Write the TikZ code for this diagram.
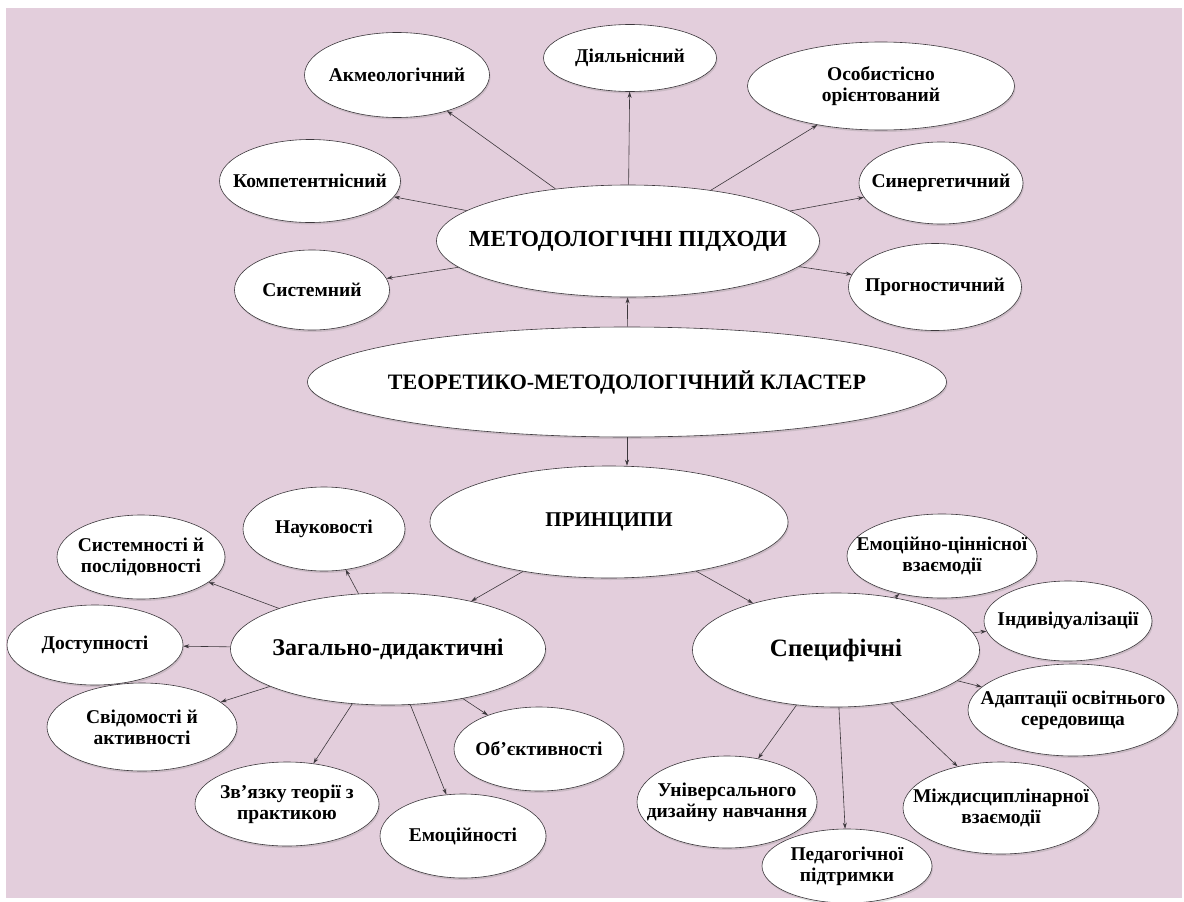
\documentclass[tikz,border=0pt]{standalone}
\usepackage{fontspec}
\setmainfont{Liberation Serif}
\usetikzlibrary{shapes.geometric,arrows.meta,shadows}

\definecolor{bgpink}{RGB}{227,206,220}
\definecolor{edge}{RGB}{60,55,60}

% a line of text that takes no width, so the ellipse keeps its given size
\newcommand{\zl}[1]{\makebox[0pt]{#1}}

\tikzset{
  bubble/.style={ellipse, draw=edge, line width=0.6pt, fill=white, inner sep=0pt,
    align=center, font=\bfseries\fontsize{19.5}{21}\selectfont,
    drop shadow={opacity=0.25, shadow xshift=1pt, shadow yshift=-2pt}},
  link/.style={draw=edge, line width=0.6pt, -{Stealth[length=6pt,width=4pt]}},
}

\begin{document}
\begin{tikzpicture}[x=1pt,y=-1pt]
  % page and coloured background
  \useasboundingbox (0,0) rectangle (1184,902);
  \fill[white] (0,0) rectangle (1184,902);
  \fill[bgpink] (6,8) rectangle (1182,898);

  % centre of the cluster
  \node[bubble, font=\bfseries\fontsize{22}{26}\selectfont, minimum width=639pt, minimum height=110pt] (clu) at (627,382) {\zl{ТЕОРЕТИКО-МЕТОДОЛОГІЧНИЙ КЛАСТЕР}};

  % methodological approaches
  \node[bubble, font=\bfseries\fontsize{23}{27}\selectfont, minimum width=383pt, minimum height=112pt] (met) at (628,241) {\zl{МЕТОДОЛОГІЧНІ ПІДХОДИ}};
  \node[bubble, minimum width=185pt, minimum height=85pt] (akm) at (397,75) {\zl{Акмеологічний}};
  \node[bubble, minimum width=173pt, minimum height=67pt] (dial) at (630,58) {\zl{Діяльнісний}};
  \node[bubble, minimum width=267pt, minimum height=88pt] (osob) at (881,86) {\zl{Особистісно}\\\zl{орієнтований}};
  \node[bubble, minimum width=181pt, minimum height=83pt] (komp) at (310,181) {\zl{Компетентнісний}};
  \node[bubble, minimum width=164pt, minimum height=82pt] (syn) at (941,183) {\zl{Синергетичний}};
  \node[bubble, minimum width=155pt, minimum height=80pt] (sys) at (312,290) {\zl{Системний}};
  \node[bubble, minimum width=173pt, minimum height=87pt] (progn) at (935,287) {\zl{Прогностичний}};

  % principles
  \node[bubble, font=\bfseries\fontsize{21}{25}\selectfont, minimum width=358pt, minimum height=112pt] (pryn) at (609,522) {\zl{ПРИНЦИПИ}};

  % general didactic principles
  \node[bubble, font=\bfseries\fontsize{24}{28}\selectfont, minimum width=315pt, minimum height=112pt] (zag) at (388,649) {\zl{Загально-дидактичні}};
  \node[bubble, minimum width=162pt, minimum height=84pt] (nauk) at (324,529) {\zl{Науковості}};
  \node[bubble, minimum width=168pt, minimum height=84pt] (sysp) at (141,557) {\zl{Системності й}\\\zl{послідовності}};
  \node[bubble, minimum width=176pt, minimum height=80pt] (dost) at (95,645) {\zl{Доступності}};
  \node[bubble, minimum width=190pt, minimum height=88pt] (svid) at (142,727) {\zl{Свідомості й}\\\zl{активності}};
  \node[bubble, minimum width=184pt, minimum height=84pt] (zv) at (287,804) {\zl{Зв’язку теорії з}\\\zl{практикою}};
  \node[bubble, minimum width=166pt, minimum height=84pt] (emo) at (463,836) {\zl{Емоційності}};
  \node[bubble, minimum width=170pt, minimum height=84pt] (obj) at (539,749) {\zl{Об'єктивності}};

  % specific principles
  \node[bubble, font=\bfseries\fontsize{25}{29}\selectfont, minimum width=287pt, minimum height=114pt] (spec) at (836,650) {\zl{Специфічні}};
  \node[bubble, minimum width=190pt, minimum height=84pt] (emc) at (942,556) {\zl{Емоційно-ціннісної}\\\zl{взаємодії}};
  \node[bubble, minimum width=168pt, minimum height=80pt] (ind) at (1068,621) {\zl{Індивідуалізації}};
  \node[bubble, minimum width=210pt, minimum height=92pt] (adap) at (1073,710) {\zl{Адаптації освітнього}\\\zl{середовища}};
  \node[bubble, minimum width=180pt, minimum height=92pt] (univ) at (727,802) {\zl{Універсального}\\\zl{дизайну навчання}};
  \node[bubble, minimum width=170pt, minimum height=74pt] (ped) at (847,866) {\zl{Педагогічної}\\\zl{підтримки}};
  \node[bubble, minimum width=196pt, minimum height=92pt] (mizh) at (1001,808) {\zl{Міждисциплінарної}\\\zl{взаємодії}};

  % connectors
  \draw[link] (clu) -- (met);
  \draw[link] (clu.south) -- (clu.south |- pryn.north);
  \foreach \t in {akm,dial,osob,komp,syn,sys,progn} \draw[link] (met) -- (\t);
  \draw[link] (pryn) -- (zag);
  \draw[link] (pryn) -- (spec);
  \foreach \t in {nauk,sysp,dost,svid,zv,emo,obj} \draw[link] (zag) -- (\t);
  \foreach \t in {emc,ind,adap,univ,ped,mizh} \draw[link] (spec) -- (\t);
\end{tikzpicture}
\end{document}
